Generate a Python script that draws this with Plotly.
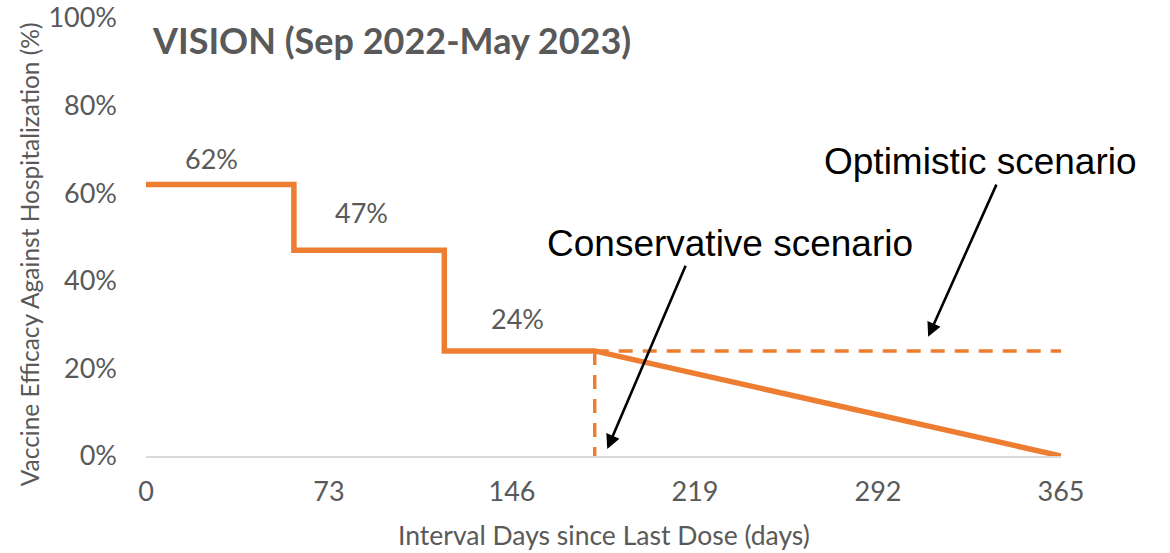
import plotly.graph_objects as go

# step-wise vaccine efficacy by interval days
step_days = [0, 59, 59, 119, 119, 179]
step_ve = [0.62, 0.62, 0.47, 0.47, 0.24, 0.24]

# scenarios after day 179
cons_days = [179, 365]
cons_ve = [0.24, 0.0]
opt_days = [179, 365]
opt_ve = [0.24, 0.24]
drop_days = [179, 179]
drop_ve = [0.24, 0.0]

# value labels
label_days = [26, 86, 148]
label_ve = [0.68, 0.555, 0.315]
label_text = ['62%', '47%', '24%']

x_ticks = [0, 73, 146, 219, 292, 365]

ORANGE = '#ED7D31'
GREY = '#595959'
FONT = 'Lato, Open Sans, sans-serif'
TICK_FONT = dict(family=FONT, size=27, color=GREY)

fig = go.Figure()

fig.add_trace(go.Scatter(x=step_days + cons_days[1:], y=step_ve + cons_ve[1:], mode='lines',
                         line=dict(color=ORANGE, width=5.5), hoverinfo='skip'))
fig.add_trace(go.Scatter(x=opt_days, y=opt_ve, mode='lines',
                         line=dict(color=ORANGE, width=3.5, dash='14px,10px'), hoverinfo='skip'))
fig.add_trace(go.Scatter(x=drop_days, y=drop_ve, mode='lines',
                         line=dict(color=ORANGE, width=3.5, dash='14px,10px'), hoverinfo='skip'))

for d, v, t in zip(label_days, label_ve, label_text):
    fig.add_annotation(x=d, y=v, text=t, showarrow=False, font=TICK_FONT)

# scenario labels with arrows
fig.add_annotation(x=312, y=0.272, ax=339.5, ay=0.623, axref='x', ayref='y',
                   showarrow=True, arrowhead=2, arrowsize=1.1, arrowwidth=2.6, arrowcolor='black', text='')
fig.add_annotation(x=184, y=0.016, ax=215.5, ay=0.438, axref='x', ayref='y',
                   showarrow=True, arrowhead=2, arrowsize=1.1, arrowwidth=2.6, arrowcolor='black', text='')
fig.add_annotation(x=333, y=0.672, text='Optimistic scenario', showarrow=False,
                   font=dict(family='Liberation Sans, Arial', size=37, color='black'))
fig.add_annotation(x=233, y=0.485, text='Conservative scenario', showarrow=False,
                   font=dict(family='Liberation Sans, Arial', size=37, color='black'))

fig.add_annotation(x=0.004, y=0.95, xref='paper', yref='paper', xanchor='left', yanchor='middle',
                   text='<b>VISION (Sep 2022-May 2023)</b>', showarrow=False,
                   font=dict(family=FONT, size=36, color=GREY))

# axis titles
fig.add_annotation(x=-0.127, y=0.46, xref='paper', yref='paper', textangle=-90,
                   xanchor='center', yanchor='middle',
                   text='Vaccine Efficacy Against Hospitalization (%)', showarrow=False,
                   font=dict(family=FONT, size=24.5, color=GREY))
fig.add_annotation(x=0.5, y=-0.18, xref='paper', yref='paper', xanchor='center', yanchor='middle',
                   text='Interval Days since Last Dose (days)', showarrow=False,
                   font=dict(family=FONT, size=26.5, color=GREY))

fig.update_layout(
    width=1170, height=553,
    margin=dict(l=146, r=109, t=18, b=97),
    paper_bgcolor='white', plot_bgcolor='white',
    showlegend=False,
    xaxis=dict(range=[0, 365], tickvals=x_ticks, showgrid=False, zeroline=False,
               showline=True, linecolor='#D9D9D9', linewidth=1.5, automargin=False,
               tickfont=TICK_FONT, ticklabelstandoff=11, ticklabeloverflow='allow'),
    yaxis=dict(range=[0, 1], dtick=0.2, tickformat='.0%', showgrid=False, zeroline=False,
               showline=False, automargin=False, tickfont=TICK_FONT, ticklabelstandoff=28,
               ticklabeloverflow='allow'),
)

# drop the default page margin so the figure fills the window exactly
fig.write_html('out.html', config={'displayModeBar': False},
               post_script="document.body.style.margin='0';")
